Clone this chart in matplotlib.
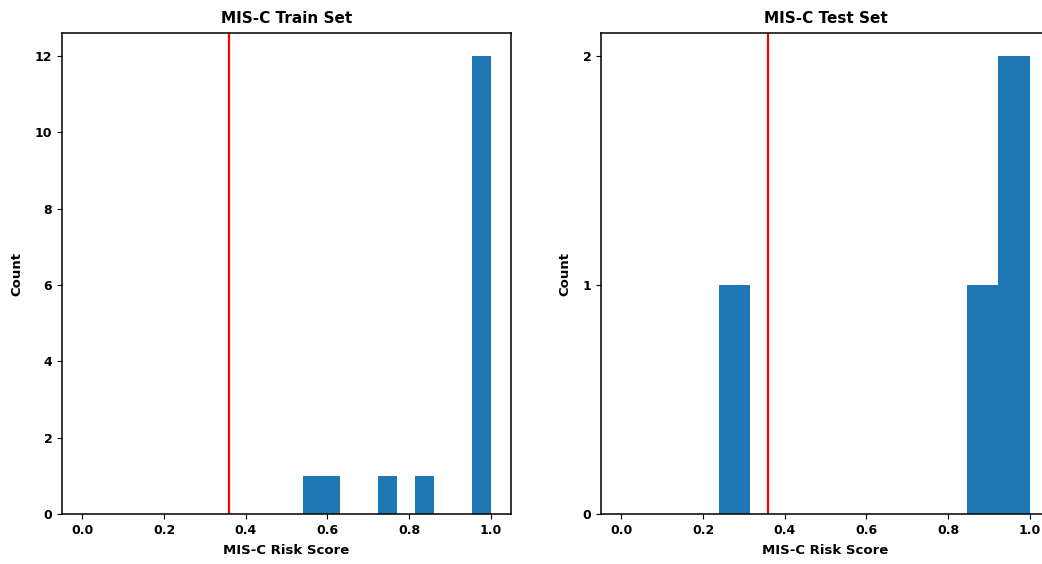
import matplotlib
matplotlib.use("Agg")
import matplotlib.pyplot as plt
from matplotlib.ticker import MaxNLocator

# Predicted MIS-C risk scores per cohort
train_scores = [0.54, 0.60, 0.75, 0.84,
                0.96, 0.97, 0.97, 0.98, 0.98, 0.99,
                0.99, 0.99, 1.00, 1.00, 1.00, 1.00]
test_scores = [0.238, 0.88, 0.96, 1.00]
threshold = 0.36
titles = ["MIS-C Train Set", "MIS-C Test Set"]
x_ticks = [0.0, 0.2, 0.4, 0.6, 0.8, 1.0]

plt.rcParams["font.family"] = "DejaVu Sans"
plt.rcParams["font.weight"] = "bold"
plt.rcParams["axes.titleweight"] = "bold"
plt.rcParams["axes.labelweight"] = "bold"

W, H = 1042, 564
fig = plt.figure(figsize=(W / 100, H / 100), dpi=100)

ax_w, ax_h = 449 / W, 481 / H
bottom = 50 / H
lefts = [62 / W, 601 / W]

for left, scores, title in zip(lefts, [train_scores, test_scores], titles):
    ax = fig.add_axes([left, bottom, ax_w, ax_h])
    ax.hist(scores, bins=10, color="#1f77b4")
    ax.axvline(threshold, color="red", linewidth=1.6)
    ax.set_xlim(-0.05, 1.05)
    ax.set_xticks(x_ticks)
    ax.yaxis.set_major_locator(MaxNLocator(integer=True))
    ax.set_title(title, fontsize=11, pad=7)
    ax.set_xlabel("MIS-C Risk Score", fontsize=9.5, labelpad=5)
    ax.set_ylabel("Count", fontsize=9.5, labelpad=8)
    ax.tick_params(labelsize=9)
    for sp in ax.spines.values():
        sp.set_linewidth(1.1)

fig.savefig("out.png", dpi=100)
